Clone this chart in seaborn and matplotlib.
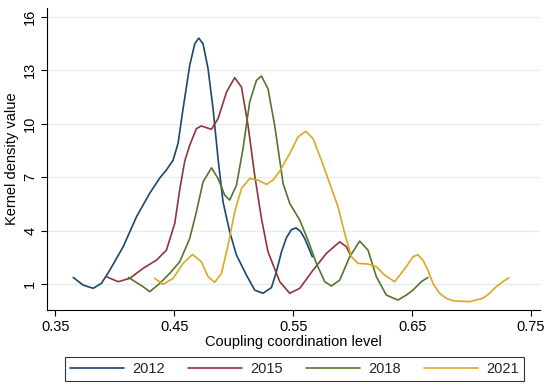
import matplotlib
matplotlib.use("Agg")
import matplotlib.pyplot as plt
import pandas as pd
import seaborn as sns

sns.set_theme(style="white")
plt.rcParams["font.family"] = ["Liberation Sans", "DejaVu Sans"]

# curves (x = coupling level, y = density)
x_2012 = [0.365, 0.3734, 0.3818, 0.3888, 0.3958, 0.407, 0.4182, 0.4294, 0.4378,
          0.4434, 0.449, 0.4532, 0.4574, 0.463, 0.4672, 0.4706, 0.4742, 0.4784,
          0.4826, 0.4868, 0.491, 0.4966, 0.5023, 0.5107, 0.5176, 0.5246, 0.5317,
          0.5359, 0.5401, 0.5443, 0.5485, 0.5524, 0.5562, 0.5597, 0.5661]
y_2012 = [1.37, 0.94, 0.76, 1.04, 1.78, 3.09, 4.77, 6.1, 6.95,
          7.4, 7.95, 8.9, 10.84, 13.27, 14.48, 14.8, 14.48, 13.08,
          10.84, 8.04, 5.61, 3.93, 2.62, 1.5, 0.66, 0.48, 0.8,
          1.7, 2.8, 3.6, 4.05, 4.15, 3.95, 3.55, 2.53]

x_2015 = [0.393, 0.4028, 0.4126, 0.4238, 0.435, 0.4434, 0.4504, 0.4546, 0.4588,
          0.463, 0.4686, 0.4728, 0.4812, 0.4868, 0.4939, 0.5008, 0.5065, 0.512,
          0.5176, 0.5233, 0.5288, 0.5387, 0.5471, 0.5555, 0.5667, 0.5779, 0.5891,
          0.5947, 0.5989]
y_2015 = [1.41, 1.13, 1.32, 1.88, 2.34, 2.9, 4.4, 6.3, 7.9,
          8.79, 9.72, 9.87, 9.68, 10.28, 11.77, 12.58, 12.05, 9.91,
          7.11, 4.68, 2.81, 1.13, 0.48, 0.76, 1.78, 2.72, 3.37,
          3.09, 2.53]

x_2018 = [0.4115, 0.4238, 0.4294, 0.4378, 0.4462, 0.4546, 0.463, 0.4686, 0.4742,
          0.4813, 0.4868, 0.4924, 0.4966, 0.5023, 0.5078, 0.5134, 0.5191, 0.5233,
          0.5288, 0.5344, 0.5415, 0.5471, 0.5555, 0.5624, 0.5695, 0.5765, 0.5821,
          0.5891, 0.5975, 0.6059, 0.6129, 0.6199, 0.6283, 0.6381, 0.6451, 0.6507,
          0.6577, 0.6633]
y_2018 = [1.37, 0.85, 0.57, 1.04, 1.6, 2.25, 3.56, 5.05, 6.73,
          7.52, 6.92, 5.99, 5.71, 6.55, 8.6, 11.21, 12.43, 12.67,
          11.96, 9.91, 6.64, 5.52, 4.59, 3.46, 2.16, 1.13, 0.89,
          1.22, 2.53, 3.41, 2.9, 1.41, 0.38, 0.1, 0.38, 0.66,
          1.13, 1.37]

x_2021 = [0.4336, 0.4406, 0.449, 0.4574, 0.4653, 0.4728, 0.4784, 0.484, 0.4897,
          0.4952, 0.5008, 0.5065, 0.5134, 0.5204, 0.5275, 0.533, 0.5387, 0.5471,
          0.554, 0.5605, 0.5667, 0.5737, 0.5807, 0.5877, 0.5933, 0.5989, 0.6045,
          0.6129, 0.6199, 0.6269, 0.6353, 0.6451, 0.6507, 0.6549, 0.6591, 0.6633,
          0.6675, 0.6731, 0.6787, 0.6843, 0.6983, 0.7095, 0.7151, 0.7207, 0.7263,
          0.7313]
y_2021 = [1.32, 0.98, 1.32, 2.16, 2.66, 2.25, 1.41, 1.1, 1.6,
          3.18, 5.05, 6.36, 6.92, 6.83, 6.59, 6.83, 7.34, 8.32,
          9.25, 9.57, 9.16, 7.95, 6.64, 5.33, 3.84, 2.53, 2.16,
          2.12, 1.97, 1.5, 1.13, 1.97, 2.53, 2.64, 2.34, 1.78,
          1.04, 0.48, 0.2, 0.06, 0.01, 0.2, 0.48, 0.85, 1.13,
          1.35]

years = ["2012", "2015", "2018", "2021"]
colors = ["#1a476f", "#90353b", "#55752f", "#dca722"]

frames = []
for yr, xs, ys in zip(years, [x_2012, x_2015, x_2018, x_2021],
                      [y_2012, y_2015, y_2018, y_2021]):
    frames.append(pd.DataFrame({"x": xs, "y": ys, "year": yr}))
df = pd.concat(frames, ignore_index=True)

fig = plt.figure(figsize=(5.5, 3.9), dpi=100)
ax = fig.add_axes([0.0855, 0.205, 0.8965, 0.775])

sns.lineplot(data=df, x="x", y="y", hue="year", palette=colors, sort=False,
             estimator=None, linewidth=1.2, ax=ax, legend=False)
for line in ax.get_lines():
    line.set_solid_joinstyle("round")

ax.set_xlim(0.343, 0.7576)
ax.set_ylim(-0.46, 16.5)
ax.set_xticks([0.35, 0.45, 0.55, 0.65, 0.75])
ax.set_xticklabels(["0.35", "0.45", "0.55", "0.65", "0.75"])
ax.set_yticks([1, 4, 7, 10, 13, 16])
ax.set_yticklabels(["1", "4", "7", "10", "13", "16"], rotation=90, va="center")
ax.tick_params(axis="both", direction="out", length=4, width=0.8, color="black",
               labelsize=10.5, labelcolor="black", bottom=True, left=True, pad=3)
ax.yaxis.grid(True, color="#e6ebee", linewidth=0.9)
ax.xaxis.grid(False)
for side in ["top", "right"]:
    ax.spines[side].set_visible(False)
for side in ["left", "bottom"]:
    ax.spines[side].set_color("black")
    ax.spines[side].set_linewidth(0.8)

ax.set_xlabel("Coupling coordination level", fontsize=10.5, color="black", labelpad=1)
ax.set_ylabel("Kernel density value", fontsize=10.5, color="black", labelpad=3)

handles = [plt.Line2D([], [], color=c, linewidth=1.2) for c in colors]
leg = fig.legend(handles, years, loc="center", bbox_to_anchor=(0.535, 0.0545),
                 ncol=4, frameon=True, fancybox=False, fontsize=10.5,
                 handlelength=3.7, columnspacing=1.6, handletextpad=0.55,
                 borderpad=0.35)
leg.get_frame().set_edgecolor("black")
leg.get_frame().set_linewidth(0.8)

fig.savefig("out.png", dpi=100)
